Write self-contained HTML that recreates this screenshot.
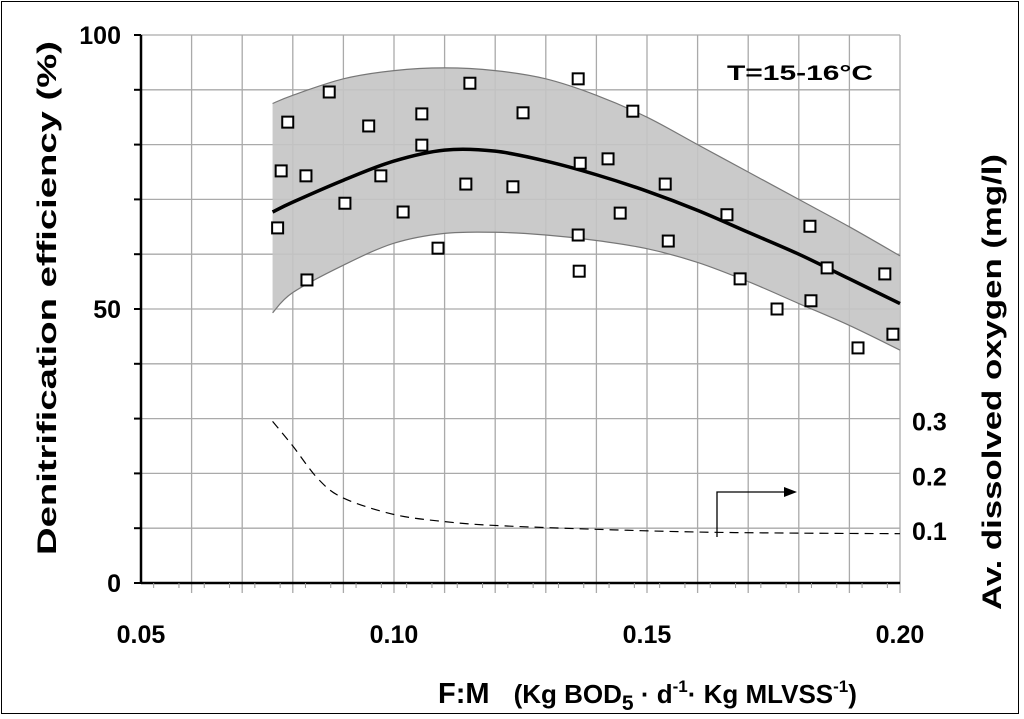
<!DOCTYPE html>
<html><head><meta charset="utf-8"><style>
html,body{margin:0;padding:0;background:#fff}
svg{display:block;font-family:"Liberation Sans",Arial,sans-serif;font-weight:bold}
</style></head><body>
<svg id="c" width="1024" height="719">
<rect x="1.5" y="1.5" width="1017" height="712" fill="#fff" stroke="#000" stroke-width="1"/>
<g id="grid"></g>
<g id="band"></g>
<g id="axes"></g>
<g id="series"></g>
<text x="727" y="80" font-size="21" textLength="146" lengthAdjust="spacingAndGlyphs">T=15-16°C</text>
<text transform="translate(56,298) rotate(-90)" font-size="27" text-anchor="middle" textLength="514" lengthAdjust="spacingAndGlyphs">Denitrification efficiency (%)</text>
<text transform="translate(1001,382) rotate(-90)" font-size="27" text-anchor="middle" textLength="456" lengthAdjust="spacingAndGlyphs">Av. dissolved oxygen (mg/l)</text>
<text x="438" y="703" font-size="29">F:M <tspan dx="16" font-size="26">(Kg BOD</tspan><tspan font-size="21" dy="7">5</tspan><tspan font-size="26" dy="-7"> · d</tspan><tspan font-size="17" dy="-11">-1</tspan><tspan font-size="26" dy="11">· Kg MLVSS</tspan><tspan font-size="17" dy="-11">-1</tspan><tspan font-size="26" dy="11">)</tspan></text>
<g>
<polyline points="717,537 717,492 785,492" fill="none" stroke="#000" stroke-width="1.3"/>
<polygon points="797,492 784,487 784,497" fill="#000"/>
</g>
</svg>
<script>
const xTicks=[0.05,0.10,0.15,0.20];
const xTickLabels=["0.05","0.10","0.15","0.20"];
const yTicks=[0,50,100];
const yTickLabels=["0","50","100"];
const y2Ticks=[0.1,0.2,0.3];
const y2TickLabels=["0.1","0.2","0.3"];
const bandX=[0.076,0.08,0.09,0.10,0.11,0.12,0.13,0.14,0.15,0.16,0.17,0.18,0.19,0.20];
const bandUpper=[87.5,89,92,93.5,94,93.5,92,89,85,80,75,70,65,59.7];
const bandLower=[49.3,53,58,62,63.8,64,63.5,62.5,61,58.5,55,51,47,42.5];
const meanX=[0.076,0.08,0.09,0.10,0.11,0.12,0.13,0.14,0.15,0.16,0.17,0.18,0.19,0.20];
const meanY=[67.7,69.5,73.5,77,79,78.8,77,74.5,71.5,68,64,60,55.5,51];
const doX=[0.076,0.08,0.085,0.09,0.10,0.11,0.12,0.14,0.16,0.18,0.20];
const doY=[0.295,0.25,0.19,0.155,0.125,0.112,0.105,0.098,0.093,0.091,0.09];
const ptX=[0.077,0.0777,0.079,0.0826,0.0828,0.0872,0.0903,0.095,0.0974,0.1018,0.1055,0.1055,0.1087,0.1142,0.115,0.1235,0.1255,0.1364,0.1366,0.1368,0.1364,0.1423,0.1447,0.1472,0.1536,0.1542,0.1658,0.1684,0.1757,0.1822,0.1824,0.1856,0.1917,0.197,0.1986];
const ptY=[64.8,75.2,84.1,74.3,55.3,89.6,69.3,83.4,74.3,67.7,85.6,79.9,61.1,72.8,91.2,72.3,85.8,63.5,56.9,76.6,92,77.4,67.5,86.1,72.8,62.4,67.2,55.5,50,65.1,51.5,57.5,42.9,56.4,45.4];

const NS="http://www.w3.org/2000/svg";
const X0=141,X1=900,Y0=583,Y1=35;
const sx=v=>X0+(v-0.05)/(0.15)*(X1-X0);
const sy=v=>Y0-v/100*(Y0-Y1);
const sy2=v=>sy(v*100);
function mk(tag,attrs,parent){const e=document.createElementNS(NS,tag);for(const k in attrs)e.setAttribute(k,attrs[k]);parent.appendChild(e);return e;}
function spline(pts){let d="M"+pts[0][0]+","+pts[0][1];for(let i=0;i<pts.length-1;i++){const p0=pts[Math.max(0,i-1)],p1=pts[i],p2=pts[i+1],p3=pts[Math.min(pts.length-1,i+2)];d+=" C"+(p1[0]+(p2[0]-p0[0])/6)+","+(p1[1]+(p2[1]-p0[1])/6)+" "+(p2[0]-(p3[0]-p1[0])/6)+","+(p2[1]-(p3[1]-p1[1])/6)+" "+p2[0]+","+p2[1];}return d;}
const grid=document.getElementById('grid');
for(let i=1;i<=15;i++){const x=sx(0.05+i*0.01);const l=mk('line',{x1:x,x2:x,y1:Y1,y2:Y0+10,stroke:'#aaa','stroke-width':1.3},grid);

}
for(let i=1;i<=10;i++){const y=sy(i*10);const l=mk('line',{x1:X0,x2:X1,y1:y,y2:y,stroke:'#aaa','stroke-width':1.3},grid);

}
const band=document.getElementById('band');
const up=bandX.map((v,i)=>[sx(v),sy(bandUpper[i])]);
const lo=bandX.map((v,i)=>[sx(v),sy(bandLower[i])]).reverse();
const bd=spline(up)+" L"+lo[0][0]+","+lo[0][1]+spline(lo).replace(/^M[^ ]+/,"")+" Z";
const bp=mk('path',{d:bd,fill:'#c4c4c4','fill-opacity':0.9,stroke:'none'},band);


const bu=mk('path',{d:spline(up),fill:'none',stroke:'#777','stroke-width':1.2},band);


const bl=mk('path',{d:spline(lo),fill:'none',stroke:'#777','stroke-width':1.2},band);


const axes=document.getElementById('axes');
const ya=mk('line',{x1:X0,x2:X0,y1:Y1,y2:Y0,stroke:'#000','stroke-width':2.5},axes);


const xa=mk('line',{x1:X0,x2:X1,y1:Y0,y2:Y0,stroke:'#000','stroke-width':2.5},axes);


for(let i=0;i<=10;i++){const y=sy(i*10);mk('line',{x1:X0-7,x2:X0,y1:y,y2:y,stroke:'#000','stroke-width':2},axes);}
for(let i=0;i<30;i++){const x=sx(0.05+i*0.005+0.0025);mk('line',{x1:x,x2:x,y1:Y0,y2:Y0+5,stroke:'#999','stroke-width':1},axes);}
xTicks.forEach((v,i)=>{const t=mk('text',{x:sx(v),y:643,'font-size':25,'text-anchor':'middle'},axes);t.textContent=xTickLabels[i];

});
yTicks.forEach((v,i)=>{const t=mk('text',{x:X0-20,y:sy(v)+9,'font-size':25,'text-anchor':'end'},axes);t.textContent=yTickLabels[i];

});
y2Ticks.forEach((v,i)=>{const t=mk('text',{x:912,y:sy2(v)+12,'font-size':25},axes);t.textContent=y2TickLabels[i];

});
const series=document.getElementById('series');
const dl=mk('path',{d:spline(doX.map((v,i)=>[sx(v),sy2(doY[i])])),fill:'none',stroke:'#000','stroke-width':1.2,'stroke-dasharray':'9,6'},series);


const ml=mk('path',{d:spline(meanX.map((v,i)=>[sx(v),sy(meanY[i])])),fill:'none',stroke:'#000','stroke-width':3.5},series);


ptX.forEach((v,i)=>{const r=mk('rect',{x:sx(v)-5.5,y:sy(ptY[i])-5.5,width:11,height:11,fill:'#fff',stroke:'#000','stroke-width':2},series);

});
</script>
</body></html>
